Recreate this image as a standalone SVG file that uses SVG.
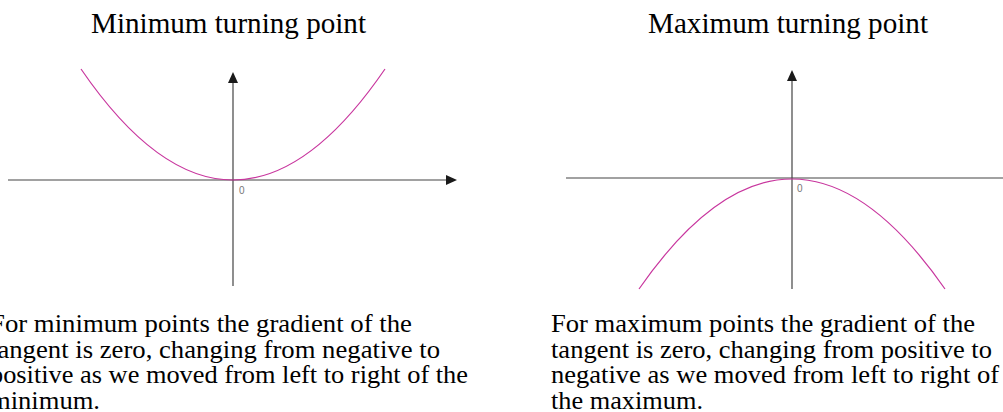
<svg xmlns="http://www.w3.org/2000/svg" width="1003" height="412" viewBox="0 0 1003 412">
<style>
.title{font-family:"Liberation Serif","Times New Roman",serif;font-size:29px;fill:#000}
.body{font-family:"Liberation Serif","Times New Roman",serif;font-size:26px;fill:#000}
.axis{stroke:#444;stroke-width:1.2;fill:none}
.curve{stroke:#c8369e;stroke-width:1.2;fill:none}
.zero{font-family:"Liberation Sans",Arial,sans-serif;font-size:10px;fill:#777}
.head{fill:#1a1a1a}
</style>
<rect width="1003" height="412" fill="#fff"/>
<g id="min-panel">
<text class="title" x="91" y="33" textLength="275" lengthAdjust="spacingAndGlyphs">Minimum turning point</text>
<g id="min-axes">
<line class="axis" x1="8" y1="180" x2="447" y2="180"/>
<polygon class="head" points="457,180 446,175 446,185"/>
<line class="axis" x1="233" y1="82" x2="233" y2="286"/>
<polygon class="head" points="233,72 228,83 238,83"/>
</g>
<path class="curve" d="M81,69 Q233,291 385,69"/>
<text class="zero" x="239" y="194">0</text>
<text class="body" x="-10" y="332" textLength="422" lengthAdjust="spacingAndGlyphs">For minimum points the gradient of the</text>
<text class="body" x="-10" y="357.5" textLength="450" lengthAdjust="spacingAndGlyphs">tangent is zero, changing from negative to</text>
<text class="body" x="-10" y="383" textLength="478" lengthAdjust="spacingAndGlyphs">positive as we moved from left to right of the</text>
<text class="body" x="-10" y="408.5" textLength="110" lengthAdjust="spacingAndGlyphs">minimum.</text>
</g>
<g id="max-panel">
<text class="title" x="648" y="33" textLength="280" lengthAdjust="spacingAndGlyphs">Maximum turning point</text>
<g id="max-axes">
<line class="axis" x1="566" y1="178" x2="1003" y2="178"/>
<line class="axis" x1="792" y1="80" x2="792" y2="289"/>
<polygon class="head" points="792,70 787,81 797,81"/>
</g>
<path class="curve" d="M639,289 Q792,69 945,289"/>
<text class="zero" x="797" y="192">0</text>
<text class="body" x="551" y="332" textLength="424" lengthAdjust="spacingAndGlyphs">For maximum points the gradient of the</text>
<text class="body" x="551" y="357.5" textLength="441" lengthAdjust="spacingAndGlyphs">tangent is zero, changing from positive to</text>
<text class="body" x="551" y="383" textLength="448" lengthAdjust="spacingAndGlyphs">negative as we moved from left to right of</text>
<text class="body" x="551" y="408.5" textLength="152" lengthAdjust="spacingAndGlyphs">the maximum.</text>
</g>
</svg>
